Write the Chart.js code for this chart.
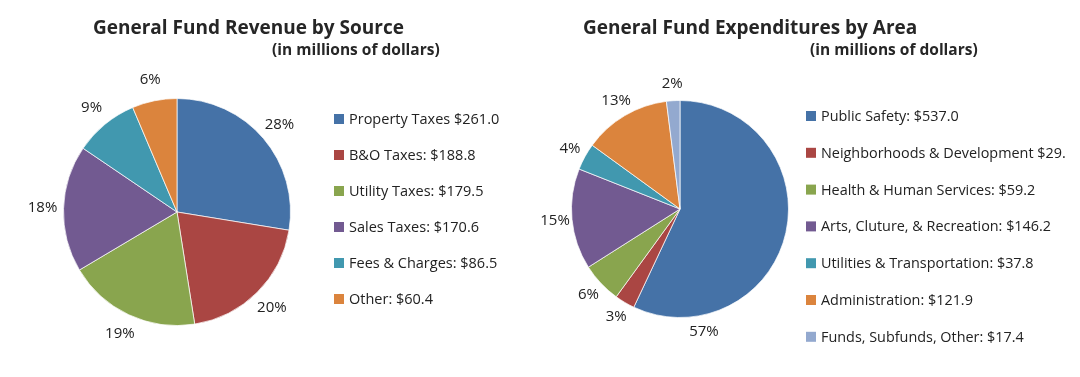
<!DOCTYPE html>
<html>
<head>
<meta charset="utf-8">
<script src="https://cdn.jsdelivr.net/npm/chart.js@4.4.1/dist/chart.umd.min.js"></script>
<style>
  html, body { margin: 0; padding: 0; background: #fff; }
  #wrap { position: relative; width: 1080px; height: 377px; overflow: hidden; font-family: "Open Sans", sans-serif; color: #262626; }
  .box { position: absolute; top: 0; width: 540px; height: 377px; }
  .title { position: absolute; font-weight: bold; font-size: 19px; line-height: 26px; white-space: nowrap; }
  .sub { position: absolute; font-weight: bold; font-size: 15.5px; line-height: 21px; white-space: nowrap; }
</style>
</head>
<body>
<div id="wrap">
  <div class="box" style="left:0"><canvas id="revChart" width="540" height="377"></canvas></div>
  <div class="box" style="left:540px"><canvas id="expChart" width="540" height="377"></canvas></div>
  <div class="title" style="left:93px; top:14px">General Fund Revenue by Source</div>
  <div class="sub" style="left:272px; top:39px">(in millions of dollars)</div>
  <div class="title" style="left:583px; top:14px">General Fund Expenditures by Area</div>
  <div class="sub" style="left:810px; top:39px">(in millions of dollars)</div>
</div>
<script>
// Revenue (left pie)
const revLabels = ["Property Taxes $261.0", "B&O Taxes: $188.8", "Utility Taxes: $179.5",
  "Sales Taxes: $170.6", "Fees & Charges: $86.5", "Other: $60.4"];
const revValues = [261.0, 188.8, 179.5, 170.6, 86.5, 60.4];
const revPct = ["28%", "20%", "19%", "18%", "9%", "6%"];

// Expenditures (right pie), slices as drawn in percent
const expLabels = ["Public Safety: $537.0", "Neighborhoods & Development $29.", "Health & Human Services: $59.2",
  "Arts, Cluture, & Recreation: $146.2", "Utilities & Transportation: $37.8", "Administration: $121.9",
  "Funds, Subfunds, Other: $17.4"];
const expValues = [57, 3, 6, 15, 4, 13, 2];
const expPct = ["57%", "3%", "6%", "15%", "4%", "13%", "2%"];

const palette = ['#4572a7', '#aa4643', '#89a54e', '#725a91', '#4198af', '#db843d', '#93a9cf'];
const textColor = '#222';
const fontFam = '"Open Sans", sans-serif';

// draws % labels outside the pie and the legend on the right
const pieExtras = {
  id: 'pieExtras',
  afterDraw(chart, args, opts) {
    const c = chart.ctx;
    const arcs = chart.getDatasetMeta(0).data;
    c.save();
    c.fillStyle = textColor;
    c.font = '15px ' + fontFam;
    c.textAlign = 'center';
    c.textBaseline = 'middle';
    arcs.forEach((a, i) => {
      let ang = (a.startAngle + a.endAngle) / 2;
      if (opts.angleOverride && opts.angleOverride[i] != null) ang = opts.angleOverride[i] * Math.PI / 180 - Math.PI / 2;
      const r = a.outerRadius + opts.labelGap;
      c.fillText(opts.pct[i], a.x + Math.cos(ang) * r, a.y + Math.sin(ang) * r);
    });
    // legend
    c.textAlign = 'left';
    c.font = opts.legendFont + 'px ' + fontFam;
    chart.data.labels.forEach((lab, i) => {
      const y = opts.legendY + i * opts.legendStep;
      c.fillStyle = palette[i];
      c.fillRect(opts.legendX, y - 5, 10, 10);
      c.fillStyle = textColor;
      c.fillText(lab, opts.legendX + 15, y + 1);
    });
    c.restore();
  }
};

function makePie(id, labels, values, pad, extras) {
  return new Chart(document.getElementById(id), {
    type: 'pie',
    data: {
      labels: labels,
      datasets: [{
        data: values,
        backgroundColor: palette.slice(0, values.length),
        borderColor: 'rgba(255,255,255,0.7)',
        borderWidth: 1,
        hoverOffset: 0
      }]
    },
    options: {
      responsive: false,
      animation: false,
      layout: { padding: pad },
      plugins: {
        legend: { display: false },
        tooltip: { enabled: false },
        pieExtras: extras
      }
    },
    plugins: [pieExtras]
  });
}

makePie('revChart', revLabels, revValues,
  { left: 63, right: 249, top: 98, bottom: 51 },
  { pct: revPct, labelGap: 21, legendX: 334, legendY: 119, legendStep: 36, legendFont: 14.5 });

makePie('expChart', expLabels, expValues,
  { left: 31, right: 291, top: 100, bottom: 59 },
  { pct: expPct, labelGap: 17, angleOverride: [169], legendX: 266, legendY: 116, legendStep: 36.8, legendFont: 14.4 });
</script>
</body>
</html>
